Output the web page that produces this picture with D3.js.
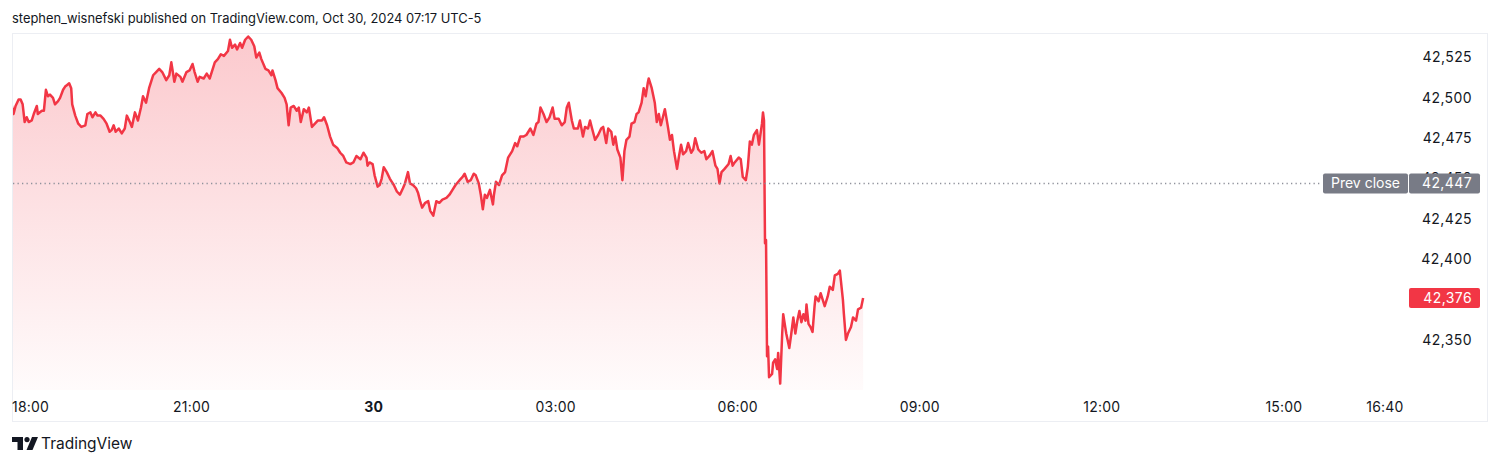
<!DOCTYPE html>
<html>
<head>
<meta charset="utf-8">
<script src="https://cdn.jsdelivr.net/npm/d3@7"></script>
<style>
  html, body { margin: 0; padding: 0; background: #ffffff; }
  svg { display: block; }
  text { font-family: Inter, Roboto, "Noto Sans", sans-serif; }
</style>
</head>
<body>
<svg id="chart" width="1500" height="465"></svg>
<script>
// ---- data ----
const headerText = "stephen_wisnefski published on TradingView.com, Oct 30, 2024 07:17 UTC-5";
const footerText = "TradingView";
const sessionStart = new Date(2024, 9, 29, 18, 0); // Oct 29, 18:00 (UTC-5)
// minutes elapsed since sessionStart
const minutes = [2,4,6,9,11,13,15,17,19,22,24,27,28,32,34,36,38,40,43,45,48,50,53,55,57,59,61,62,65,68,71,75,77,80,82,85,87,90,93,96,99,101,103,105,108,111,114,116,119,121,124,127,130,132,135,138,142,145,148,151,155,158,160,163,165,169,171,175,178,181,183,
186,188,192,195,198,203,206,209,212,216,218,220,223,225,228,230,233,236,239,242,244,247,249,253,256,259,260,263,265,269,272,274,276,278,281,284,286,288,291,294,296,299,302,305,309,311,314,317,320,324,327,330,333,337,340,343,347,350,353,
354,356,359,361,364,366,368,370,373,376,378,380,383,386,389,391,394,396,399,402,404,406,408,411,414,416,419,422,425,428,432,435,438,441,445,448,450,453,456,459,461,464,466,468,470,472,475,478,479,481,484,487,490,493,497,500,502,505,508,511,515,518,521,523,525,528,
531,534,537,539,543,546,549,551,553,556,558,562,564,567,569,572,574,576,579,582,585,587,590,592,595,597,599,601,604,606,608,610,613,615,618,620,622,625,627,629,631,632,635,638,640,642,644,646,648,651,653,655,657,660,662,664,666,669,671,674,676,678,681,684,687,689,692,
695,698,700,702,704,707,711,713,715,717,721,723,725,728,730,732,734,736,739,741,744,745,746,747,748,749,750,751,754,755,757,759,760,762,764,765,767,768,771,773,775,777,779,781,783,785,787,788,790,792,794,796,797,800,802,804,806,809,811,814,816,819,821,822,824,825,827,829,832,834,837,839,842,844];
const prices = [42496,42490,42495,42499,42499,42496,42485,42488,42485,42486,42490,42495,42490,42492,42492,42505,42501,42502,42500,42496,42498,42500,42505,42507,42508,42509,42506,42496,42489,42484,42482,42483,42490,42491,42488,42491,42489,42489,42487,42484,42479,42480,42483,42479,42481,42478,42481,42489,42485,42482,42491,42486,42494,42501,42497,42506,42514,42516,42518,42516,42511,42514,42522,42510,42515,42513,42510,42516,42517,42521,42516,
42510,42513,42512,42515,42512,42522,42524,42527,42526,42529,42536,42531,42533,42530,42534,42531,42536,42538,42536,42532,42525,42528,42524,42518,42517,42514,42517,42511,42506,42503,42500,42496,42483,42494,42495,42492,42494,42485,42493,42491,42494,42482,42484,42486,42486,42488,42483,42476,42471,42469,42466,42464,42460,42459,42460,42464,42462,42466,42463,
42458,42460,42459,42452,42445,42446,42450,42457,42454,42450,42448,42446,42442,42440,42444,42447,42454,42447,42446,42444,42441,42436,42432,42435,42436,42430,42427,42436,42435,42437,42438,42440,42443,42446,42449,42451,42453,42448,42449,42453,42452,42447,42440,42431,42440,42438,42443,42434,42440,42448,42446,42452,42454,42463,42467,42472,42470,42476,42476,42477,42481,42477,42484,42485,42494,42490,
42485,42488,42494,42487,42487,42483,42485,42494,42497,42486,42481,42481,42486,42476,42482,42481,42486,42481,42474,42477,42481,42482,42472,42481,42479,42471,42476,42468,42463,42449,42467,42474,42476,42484,42485,42490,42491,42497,42506,42501,42509,42512,42506,42497,42485,42490,42483,42488,42493,42482,42474,42477,42467,42456,42464,42471,42465,42467,42472,42466,42468,42475,42468,42466,42467,42462,42464,
42467,42458,42456,42447,42454,42456,42459,42464,42458,42460,42463,42462,42451,42449,42457,42473,42471,42477,42480,42471,42484,42491,42486,42410,42412,42340,42346,42327,42329,42336,42338,42332,42342,42323,42354,42366,42358,42354,42345,42354,42364,42354,42362,42368,42361,42366,42362,42372,42360,42358,42355,42371,42377,42374,42379,42375,42371,42377,42383,42381,42390,42391,42393,42387,42375,42366,42350,42354,42358,42364,42362,42369,42370,42376];
const prevClose = 42447;
const lastPrice = 42376;
const yTicks = [42350, 42375, 42400, 42425, 42450, 42475, 42500, 42525];
const xTickTimes = [
  {label: "18:00", date: new Date(2024, 9, 29, 18, 0), bold: false},
  {label: "21:00", date: new Date(2024, 9, 29, 21, 0), bold: false},
  {label: "30",    date: new Date(2024, 9, 30, 0, 0),  bold: true},
  {label: "03:00", date: new Date(2024, 9, 30, 3, 0),  bold: false},
  {label: "06:00", date: new Date(2024, 9, 30, 6, 0),  bold: false},
  {label: "09:00", date: new Date(2024, 9, 30, 9, 0),  bold: false},
  {label: "12:00", date: new Date(2024, 9, 30, 12, 0), bold: false},
  {label: "15:00", date: new Date(2024, 9, 30, 15, 0), bold: false},
  {label: "16:40", date: new Date(2024, 9, 30, 16, 40), bold: false}
];

// ---- build table ----
const data = minutes.map((m, i) => ({ t: new Date(sessionStart.getTime() + m * 60000), v: prices[i] }));

// ---- layout ----
const frame = { x: 12, y: 33, w: 1476, h: 389 };
const plotBottom = 390;
const plotRight = 1408;
const red = "#F23645";
const textColor = "#131722";
const labelGray = "#787b86";

const svg = d3.select("#chart");

const x = d3.scaleTime()
  .domain([new Date(2024, 9, 29, 18, 0), new Date(2024, 9, 30, 16, 40)])
  .range([9.5, 1385]);
const y = d3.scaleLinear()
  .domain([42350, 42525])
  .range([340, 57.5]);

// header
svg.append("text")
  .attr("x", 12).attr("y", 23)
  .attr("font-size", 12.9)
  .attr("fill", textColor)
  .text(headerText);

// frame
svg.append("rect")
  .attr("x", frame.x + 0.5).attr("y", frame.y + 0.5)
  .attr("width", frame.w - 1).attr("height", frame.h - 1)
  .attr("fill", "#ffffff")
  .attr("stroke", "#eceef3");

// clip for plot
const defs = svg.append("defs");
defs.append("clipPath").attr("id", "plotClip")
  .append("rect").attr("x", frame.x + 1).attr("y", frame.y + 1)
  .attr("width", plotRight - frame.x).attr("height", plotBottom - frame.y - 1);

const grad = defs.append("linearGradient")
  .attr("id", "areaGrad")
  .attr("gradientUnits", "userSpaceOnUse")
  .attr("x1", 0).attr("x2", 0)
  .attr("y1", frame.y).attr("y2", plotBottom);
grad.append("stop").attr("offset", "0%").attr("stop-color", red).attr("stop-opacity", 0.27);
grad.append("stop").attr("offset", "100%").attr("stop-color", red).attr("stop-opacity", 0.02);

const plot = svg.append("g").attr("clip-path", "url(#plotClip)");

// area
const area = d3.area()
  .x(d => x(d.t))
  .y0(plotBottom)
  .y1(d => y(d.v));
plot.append("path")
  .datum(data)
  .attr("d", area)
  .attr("fill", "url(#areaGrad)");

// prev close dotted line
const pcLineY = Math.round(y(prevClose)) + 0.5;
svg.append("line")
  .attr("x1", frame.x + 1).attr("x2", 1322)
  .attr("y1", pcLineY).attr("y2", pcLineY)
  .attr("stroke", "#8f929c")
  .attr("stroke-width", 1.3)
  .attr("stroke-dasharray", "1.3 3.2");

// line
const line = d3.line()
  .x(d => x(d.t))
  .y(d => y(d.v));
plot.append("path")
  .datum(data)
  .attr("d", line)
  .attr("fill", "none")
  .attr("stroke", red)
  .attr("stroke-width", 2.5)
  .attr("stroke-linejoin", "round");

// y axis labels
const yAxisG = svg.append("g");
yAxisG.selectAll("text.ytick")
  .data(yTicks)
  .join("text")
  .attr("class", "ytick")
  .attr("x", 1472)
  .attr("y", d => y(d))
  .attr("dy", "0.35em")
  .attr("text-anchor", "end")
  .attr("font-size", 14)
  .attr("letter-spacing", 0.4)
  .attr("fill", textColor)
  .text(d => d3.format(",")(d));

// x axis labels
const xAxisG = svg.append("g");
xAxisG.selectAll("text.xtick")
  .data(xTickTimes)
  .join("text")
  .attr("class", "xtick")
  .attr("y", 407)
  .attr("dy", "0.35em")
  .attr("text-anchor", "middle")
  .attr("font-size", 14)
  .attr("letter-spacing", 0.2)
  .attr("font-weight", d => d.bold ? 700 : 400)
  .attr("fill", textColor)
  .text(d => d.label)
  .attr("x", function(d) {
    const w = this.getComputedTextLength();
    const cx = x(d.date);
    return Math.max(cx, frame.x + w / 2);
  });

// prev close label
const pcY = y(prevClose);
svg.append("rect")
  .attr("x", 1323).attr("y", pcY - 10).attr("width", 85).attr("height", 20)
  .attr("rx", 2).attr("fill", labelGray);
svg.append("text")
  .attr("x", 1365.5).attr("y", pcY).attr("dy", "0.35em")
  .attr("text-anchor", "middle").attr("font-size", 14).attr("fill", "#ffffff")
  .text("Prev close");
svg.append("rect")
  .attr("x", 1409).attr("y", pcY - 10).attr("width", 71).attr("height", 20)
  .attr("rx", 2).attr("fill", labelGray);
svg.append("text")
  .attr("x", 1472).attr("y", pcY).attr("dy", "0.35em")
  .attr("text-anchor", "end").attr("font-size", 14).attr("letter-spacing", 0.4).attr("fill", "#ffffff")
  .text(d3.format(",")(prevClose));

// last price label
const lpY = y(lastPrice);
svg.append("rect")
  .attr("x", 1409).attr("y", lpY - 10).attr("width", 71).attr("height", 20)
  .attr("rx", 2).attr("fill", red);
svg.append("text")
  .attr("x", 1472).attr("y", lpY).attr("dy", "0.35em")
  .attr("text-anchor", "end").attr("font-size", 14).attr("letter-spacing", 0.4).attr("fill", "#ffffff")
  .text(d3.format(",")(lastPrice));

// footer logo
const logo = svg.append("g").attr("transform", "translate(12,437)").attr("fill", textColor);
logo.append("path").attr("d", "M0,0 H11 V13 H5.5 V5 H0 Z");
logo.append("circle").attr("cx", 15).attr("cy", 2.6).attr("r", 2.6);
logo.append("path").attr("d", "M20,0 H26 L20.5,13 H14.5 Z");
svg.append("text")
  .attr("x", 41).attr("y", 449)
  .attr("font-size", 15.5)
  .attr("fill", textColor)
  .text(footerText);
</script>
</body>
</html>
